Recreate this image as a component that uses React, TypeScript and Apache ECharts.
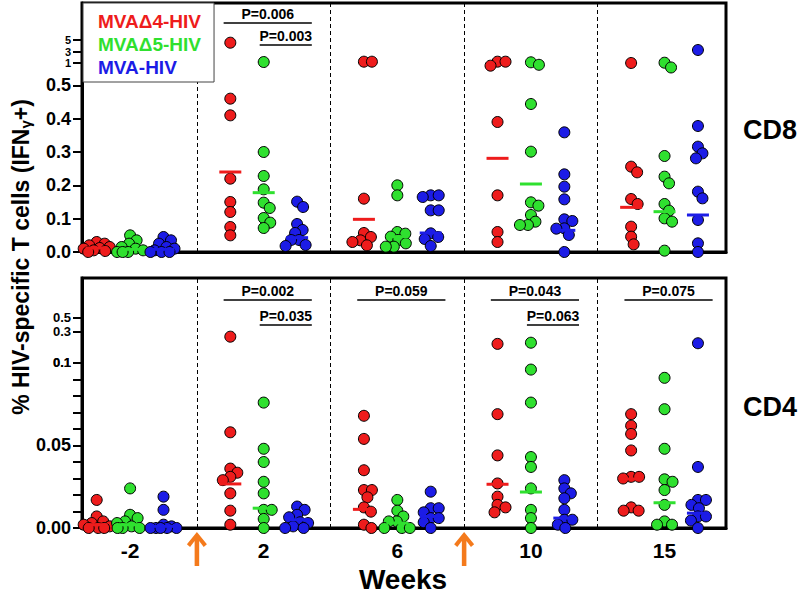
import React, { useEffect, useRef } from 'react';
import * as echarts from 'echarts';

// ---------- data ----------
const weeks = ['-2', '2', '6', '10', '15'];
const groups = ['MVAΔ4-HIV', 'MVAΔ5-HIV', 'MVA-HIV'];
const colors = ['#ee1c1c', '#2fe02f', '#1c1ce6'];

// CD8 (% IFNγ+), one inner array per week
const cd8Delta4 = [
  [0.03, 0.025, 0.02, 0.015, 0.012, 0.01, 0.005, 0.003, 0.0],
  [4.53, 0.46, 0.41, 0.22, 0.15, 0.12, 0.075, 0.05],
  [1.23, 1.23, 0.16, 0.057, 0.045, 0.035, 0.03, 0.02],
  [1.23, 0.94, 1.23, 0.39, 0.17, 0.06, 0.03],
  [1.0, 0.256, 0.239, 0.159, 0.144, 0.076, 0.046, 0.023],
];
const cd8Delta5 = [
  [0.05, 0.035, 0.025, 0.015, 0.01, 0.005, 0.0, 0.0, 0.0],
  [1.17, 0.3, 0.228, 0.188, 0.148, 0.132, 0.102, 0.088, 0.072],
  [0.2, 0.17, 0.06, 0.055, 0.046, 0.036, 0.026, 0.016, 0.016],
  [1.12, 0.96, 0.444, 0.301, 0.149, 0.139, 0.111, 0.091, 0.081, 0.081],
  [1.05, 0.9, 0.288, 0.226, 0.206, 0.144, 0.124, 0.101, 0.091, 0.004],
];
const cd8Mva = [
  [0.045, 0.035, 0.025, 0.015, 0.01, 0.005, 0.0, 0.0, 0.0],
  [0.151, 0.135, 0.084, 0.066, 0.057, 0.036, 0.036, 0.021, 0.018],
  [0.17, 0.17, 0.165, 0.125, 0.125, 0.056, 0.045, 0.039, 0.018],
  [0.359, 0.233, 0.196, 0.158, 0.098, 0.093, 0.071, 0.07, 0.051, 0.0],
  [3.26, 0.378, 0.316, 0.296, 0.281, 0.181, 0.161, 0.096, 0.026, 0.0],
];
const cd8MeanDelta4 = [0.012, 0.24, 0.098, 0.281, 0.134];
const cd8MeanDelta5 = [0.008, 0.178, 0.046, 0.204, 0.121];
const cd8MeanMva = [0.008, 0.043, 0.057, 0.065, 0.111];

// CD4
const cd4Delta4 = [
  [0.017, 0.007, 0.004, 0.003, 0.002, 0.001, 0.0, 0.0, 0.0],
  [0.233, 0.058, 0.036, 0.0335, 0.031, 0.029, 0.021, 0.0105, 0.002],
  [0.068, 0.054, 0.035, 0.023, 0.023, 0.0186, 0.0125, 0.0099, 0.002, 0.0],
  [0.13, 0.069, 0.044, 0.027, 0.019, 0.014, 0.0125, 0.0095],
  [0.069, 0.062, 0.057, 0.047, 0.031, 0.03, 0.031, 0.0125, 0.0105, 0.0105],
];
const cd4Delta5 = [
  [0.024, 0.008, 0.006, 0.004, 0.003, 0.001, 0.0, 0.0, 0.0],
  [0.076, 0.048, 0.04, 0.028, 0.021, 0.011, 0.011, 0.0055, 0.0],
  [0.017, 0.0105, 0.007, 0.004, 0.004, 0.0, 0.0, 0.0],
  [0.147, 0.096, 0.076, 0.043, 0.037, 0.024, 0.011, 0.006, 0.0],
  [0.091, 0.072, 0.048, 0.0295, 0.028, 0.023, 0.014, 0.004, 0.002, 0.002],
];
const cd4Mva = [
  [0.019, 0.011, 0.002, 0.001, 0.0, 0.0, 0.0, 0.0, 0.0],
  [0.013, 0.011, 0.008, 0.0065, 0.0035, 0.003, 0.001, 0.0, 0.0],
  [0.022, 0.012, 0.012, 0.0095, 0.006, 0.006, 0.0035, 0.0],
  [0.029, 0.024, 0.021, 0.018, 0.011, 0.005, 0.005, 0.002, 0.0],
  [0.139, 0.037, 0.017, 0.017, 0.014, 0.012, 0.007, 0.007, 0.0045, 0.0],
];
const cd4MeanDelta4 = [0.002, 0.0267, 0.0113, 0.0265, 0.0297];
const cd4MeanDelta5 = [0.002, 0.012, 0.003, 0.0218, 0.0153];
const cd4MeanMva = [0.001, 0.005, 0.007, 0.006, 0.009];

// axis ticks
const cd8Ticks = [0, 0.1, 0.2, 0.3, 0.4, 0.5];
const cd8BreakTicks = [1, 3, 5];
const cd4Ticks = [0, 0.01, 0.02, 0.03, 0.04, 0.05, 0.06, 0.07, 0.08, 0.09, 0.1];
const cd4Labels = [0, 0.05, 0.1];
const cd4BreakTicks = [0.1, 0.3, 0.5];

// statistics: panel 0 = CD8, 1 = CD4; pair 'd4' = Δ4 vs MVA, 'd5' = Δ5 vs MVA
const pTests = [
  { panel: 0, week: 1, pair: 'd4', label: 'P=0.006' },
  { panel: 0, week: 1, pair: 'd5', label: 'P=0.003' },
  { panel: 1, week: 1, pair: 'd4', label: 'P=0.002' },
  { panel: 1, week: 1, pair: 'd5', label: 'P=0.035' },
  { panel: 1, week: 2, pair: 'd4', label: 'P=0.059' },
  { panel: 1, week: 3, pair: 'd4', label: 'P=0.043' },
  { panel: 1, week: 3, pair: 'd5', label: 'P=0.063' },
  { panel: 1, week: 4, pair: 'd4', label: 'P=0.075' },
];
// vaccinations happen between these week indices (week 0 and week 8)
const vaccinationAfter = [0, 2];

// ---------- layout ----------
const FONT = 'Liberation Sans, Arial, Helvetica, sans-serif';
const X_MIN = -0.36;
const X_MAX = 4.46;
const GRID_LEFT = 82;
const GRID_W = 644;
const TOP_GRID = { top: 3, h: 249, max: 0.747 };
const BOT_GRID = { top: 278, h: 250, max: 0.1515 };
const GROUP_OFFSET = [-0.25, 0, 0.25];

// broken-axis transforms (value -> drawn position)
const cd8Pos = (v: number) => {
  if (v <= 0.5) return v;
  if (v < 1) return 0.5 + ((v - 0.5) * 0.067) / 0.5;
  return 0.567 + (v - 1) * 0.01725;
};
const cd4Pos = (v: number) => (v <= 0.1 ? v : 0.1103 + (v - 0.1) * 0.04242);

const pxPerX = GRID_W / (X_MAX - X_MIN);

// simple beeswarm: horizontal pixel offsets so dots do not pile up
function swarm(values: number[], pos: (v: number) => number, pxPerY: number, diameter: number, maxOff: number) {
  const pts = values.map((v, i) => ({ i, y: pos(v) * pxPerY }));
  pts.sort((a, b) => b.y - a.y);
  const placed: { x: number; y: number }[] = [];
  const out: number[] = new Array(values.length).fill(0);
  const minDist = (c: number, y: number) =>
    placed.reduce((m, q) => Math.min(m, Math.hypot(c - q.x, y - q.y)), Infinity);
  for (const p of pts) {
    let chosen: number | null = null;
    for (let k = 0; k * 0.5 <= maxOff && chosen === null; k++) {
      const cands = k === 0 ? [0] : [k * 0.5, -k * 0.5];
      for (const c of cands) {
        if (minDist(c, p.y) >= diameter) {
          chosen = c;
          break;
        }
      }
    }
    if (chosen === null) {
      let best = 0;
      let bestD = -1;
      for (let c = -maxOff; c <= maxOff; c += 0.5) {
        const d = minDist(c, p.y);
        if (d > bestD) {
          bestD = d;
          best = c;
        }
      }
      chosen = best;
    }
    placed.push({ x: chosen, y: p.y });
    out[p.i] = chosen;
  }
  return out;
}

function buildPanel(panel: number, sets: number[][][], means: number[][], pos: (v: number) => number, grid: { top: number; h: number; max: number }) {
  const pxPerY = grid.h / grid.max;
  const series: any[] = [];
  sets.forEach((set, g) => {
    const data: number[][] = [];
    set.forEach((vals, w) => {
      const dx = swarm(vals, pos, pxPerY, 8, 13);
      vals.forEach((v, k) => data.push([w + GROUP_OFFSET[g] + dx[k] / pxPerX, pos(v)]));
    });
    series.push({
      type: 'scatter',
      name: groups[g],
      xAxisIndex: panel,
      yAxisIndex: panel,
      data,
      symbol: 'circle',
      symbolSize: 11,
      clip: false,
      z: 3,
      itemStyle: { color: colors[g], borderColor: '#000', borderWidth: 1, opacity: 1 },
      silent: true,
    });
  });
  // mean bars
  means.forEach((m, g) => {
    series.push({
      type: 'scatter',
      name: 'mean-' + panel + '-' + g,
      xAxisIndex: panel,
      yAxisIndex: panel,
      data: m.map((v, w) => [w + GROUP_OFFSET[g], pos(v)]),
      symbol: 'rect',
      symbolSize: [22, 3],
      clip: false,
      z: 4,
      itemStyle: { color: colors[g], opacity: 1 },
      silent: true,
    });
  });
  // dividers + p-value lines
  const mlData: any[] = [];
  for (let w = 0; w < weeks.length - 1; w++) {
    mlData.push({ xAxis: w + 0.5, lineStyle: { type: [4, 3], color: '#000', width: 1 }, label: { show: false } });
  }
  const lvl1 = panel === 0 ? 20 : 22;
  const lvl2 = panel === 0 ? 42 : 47;
  pTests
    .filter((t) => t.panel === panel)
    .forEach((t) => {
      const y = grid.max - (t.pair === 'd4' ? lvl1 : lvl2) / pxPerY;
      const x1 = t.week + (t.pair === 'd4' ? -0.3 : -0.03);
      const x2 = t.week + 0.36;
      mlData.push([
        {
          coord: [x1, y],
          lineStyle: { type: 'solid', color: '#000', width: 1.5 },
          label: {
            show: true,
            formatter: t.label,
            position: 'insideMiddleTop',
            distance: 2,
            color: '#000',
            fontFamily: FONT,
            fontWeight: 'bold',
            fontSize: 14,
          },
        },
        { coord: [x2, y] },
      ]);
    });
  series.push({
    type: 'scatter',
    name: 'annot-' + panel,
    xAxisIndex: panel,
    yAxisIndex: panel,
    data: [[0, 0]],
    symbolSize: 0,
    silent: true,
    markLine: {
      silent: true,
      symbol: ['none', 'none'],
      label: { show: false },
      data: mlData,
      animation: false,
    },
  });
  return series;
}

export default function App() {
  const ref = useRef<HTMLDivElement>(null);
  useEffect(() => {
    document.body.style.margin = '0';
    const chart = echarts.init(ref.current!, undefined, { renderer: 'svg' });

    const topLabelMap: Record<string, string> = {};
    cd8Ticks.forEach((v) => (topLabelMap[cd8Pos(v).toFixed(5)] = v.toFixed(1)));
    cd8BreakTicks.forEach((v) => (topLabelMap[cd8Pos(v).toFixed(5)] = '{s|' + v + '}'));
    const botLabelMap: Record<string, string> = {};
    cd4Labels.forEach((v) => (botLabelMap[cd4Pos(v).toFixed(5)] = v.toFixed(2)));
    cd4BreakTicks.forEach((v) => (botLabelMap[cd4Pos(v).toFixed(5)] = '{s|' + v + '}'));

    const yAxisBase = (grid: number, max: number, ticks: number[], labels: number[], map: Record<string, string>, small: number, lh: number, showLine: boolean) => ({
      type: 'value',
      gridIndex: grid,
      position: 'left',
      offset: 0,
      min: 0,
      max,
      axisLine: { show: showLine, onZero: false, lineStyle: { color: '#000', width: 3 } },
      axisTick: { show: true, customValues: ticks, length: 9, lineStyle: { color: '#000', width: 2 } },
      splitLine: { show: false },
      axisLabel: {
        customValues: labels,
        margin: 11,
        color: '#000',
        fontFamily: FONT,
        fontWeight: 'bold',
        fontSize: 18,
        showMinLabel: true,
        showMaxLabel: true,
        formatter: (v: number) => map[v.toFixed(5)] ?? '',
        rich: { s: { fontSize: small, fontWeight: 'bold', fontFamily: FONT, color: '#000', lineHeight: lh } },
      },
    });

    // main axes carry the linear part plus outer break labels; the middle break label sits on a twin axis
    const topMain = [...cd8Ticks.map(cd8Pos), cd8Pos(cd8BreakTicks[0]), cd8Pos(cd8BreakTicks[2])];
    const topMid = [cd8Pos(cd8BreakTicks[1])];
    const botTicks = [...cd4Ticks.map(cd4Pos), cd4Pos(cd4BreakTicks[0]), cd4Pos(cd4BreakTicks[2])];
    const botMain = [...cd4Labels.map(cd4Pos), cd4Pos(cd4BreakTicks[0]), cd4Pos(cd4BreakTicks[2])];
    const botMid = [cd4Pos(cd4BreakTicks[1])];

    const pxPerYBot = BOT_GRID.h / BOT_GRID.max;

    const series = [
      ...buildPanel(0, [cd8Delta4, cd8Delta5, cd8Mva], [cd8MeanDelta4, cd8MeanDelta5, cd8MeanMva], cd8Pos, TOP_GRID),
      ...buildPanel(1, [cd4Delta4, cd4Delta5, cd4Mva], [cd4MeanDelta4, cd4MeanDelta5, cd4MeanMva], cd4Pos, BOT_GRID),
      {
        type: 'scatter',
        name: 'vaccination',
        xAxisIndex: 1,
        yAxisIndex: 1,
        clip: false,
        silent: true,
        symbol: 'path://M11,0 L22,13 L18.5,16 L13.5,9.5 L13.5,36 L8.5,36 L8.5,9.5 L3.5,16 L0,13 Z',
        symbolSize: [20, 34],
        itemStyle: { color: '#f47a1c', opacity: 1 },
        data: vaccinationAfter.map((w) => [w + 0.5, -21 / pxPerYBot]),
      },
    ];

    chart.setOption({
      animation: false,
      backgroundColor: '#fff',
      grid: [
        { left: GRID_LEFT, top: TOP_GRID.top, width: GRID_W, height: TOP_GRID.h, show: true, borderColor: '#000', borderWidth: 3, backgroundColor: 'transparent' },
        { left: GRID_LEFT, top: BOT_GRID.top, width: GRID_W, height: BOT_GRID.h, show: true, borderColor: '#000', borderWidth: 3, backgroundColor: 'transparent' },
      ],
      xAxis: [
        {
          type: 'value', gridIndex: 0, min: X_MIN, max: X_MAX,
          axisLine: { show: true, lineStyle: { color: '#000', width: 3 } },
          axisTick: { show: false }, axisLabel: { show: false }, splitLine: { show: false },
        },
        {
          type: 'value', gridIndex: 1, min: X_MIN, max: X_MAX,
          axisLine: { show: true, lineStyle: { color: '#000', width: 3 } },
          axisTick: { show: false }, splitLine: { show: false },
          axisLabel: {
            customValues: weeks.map((_, i) => i),
            formatter: (v: number) => weeks[Math.round(v)] ?? '',
            margin: 12,
            color: '#000',
            fontFamily: FONT,
            fontWeight: 'bold',
            fontSize: 21,
          },
        },
      ],
      yAxis: [
        yAxisBase(0, TOP_GRID.max, topMain, topMain, topLabelMap, 11, 10, true),
        yAxisBase(1, BOT_GRID.max, botTicks, botMain, botLabelMap, 13, 12, true),
        yAxisBase(0, TOP_GRID.max, topMid, topMid, topLabelMap, 11, 10, false),
        yAxisBase(1, BOT_GRID.max, botMid, botMid, botLabelMap, 13, 12, false),
      ],
      legend: {
        data: groups.map((g, i) => ({ name: g, textStyle: { color: colors[i] } })),
        orient: 'vertical',
        left: 83,
        top: 3,
        icon: 'none',
        itemWidth: 0,
        itemHeight: 0,
        itemGap: 3,
        padding: [8, 13, 5, 10],
        backgroundColor: '#fff',
        borderColor: '#444',
        borderWidth: 1,
        selectedMode: false,
        textStyle: { fontFamily: FONT, fontWeight: 'bold', fontSize: 19, lineHeight: 20 },
        z: 10,
      },
      graphic: [
        {
          type: 'text', x: 21, y: 257, rotation: Math.PI / 2,
          style: {
            text: '{a|% HIV-specific T cells (IFN}{g|γ}{a|+)}',
            align: 'center', verticalAlign: 'middle',
            rich: {
              a: { fontFamily: FONT, fontWeight: 'bold', fontSize: 23, fill: '#000' },
              g: { fontFamily: FONT, fontWeight: 'bold', fontSize: 15, fill: '#000', verticalAlign: 'bottom', padding: [8, 0, 0, 0] },
            },
          },
        },
        { type: 'text', x: 770, y: 130, style: { text: 'CD8', font: `bold 27px ${FONT}`, fill: '#000', align: 'center', verticalAlign: 'middle' } },
        { type: 'text', x: 770, y: 407, style: { text: 'CD4', font: `bold 27px ${FONT}`, fill: '#000', align: 'center', verticalAlign: 'middle' } },
        { type: 'text', x: 403, y: 579, style: { text: 'Weeks', font: `bold 28px ${FONT}`, fill: '#000', align: 'center', verticalAlign: 'middle' } },
      ],
      series,
    });
    return () => chart.dispose();
  }, []);
  return <div ref={ref} style={{ width: 800, height: 595 }} />;
}
